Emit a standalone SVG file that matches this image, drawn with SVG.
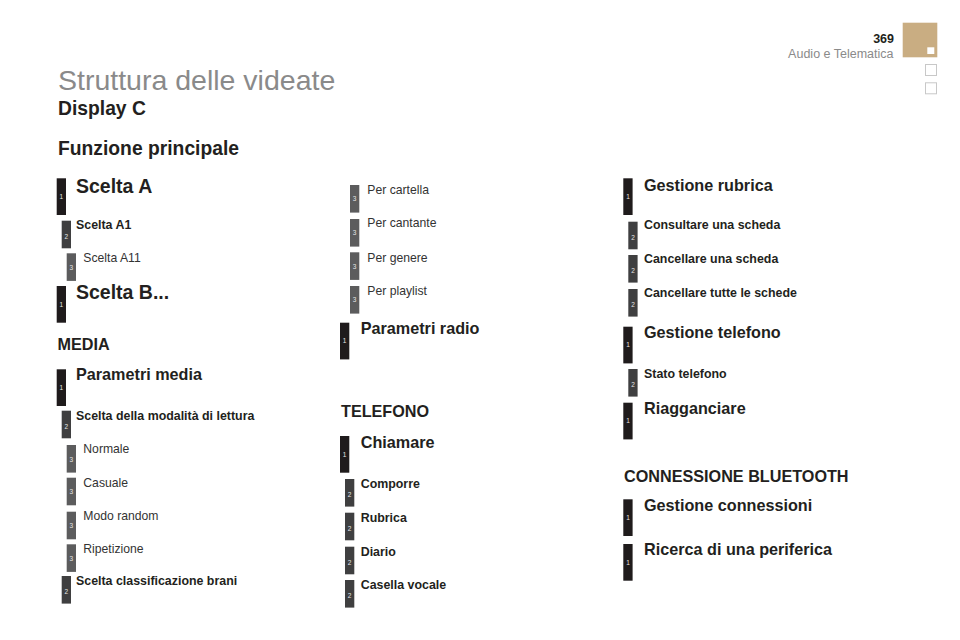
<svg xmlns="http://www.w3.org/2000/svg" width="960" height="640" viewBox="0 0 960 640">
<style>
text{font-family:"Liberation Sans",Arial,Helvetica,sans-serif;fill:#231f20}
.title{font-size:28.5px;fill:#8a8a8a;font-weight:300}
.h2{font-size:19.3px;font-weight:bold}
.sec{font-size:16.2px;font-weight:bold}
.l1{font-size:16.2px;font-weight:bold}
.l1b{font-size:19.5px;font-weight:bold}
.l2{font-size:12.4px;font-weight:bold}
.l3{font-size:12.2px;fill:#333}
.b1{fill:#1f1b1c}
.b2{fill:#3f3f40}
.b3{fill:#5c5c5d}
.n{font-size:6.5px;fill:#e6e6e6;text-anchor:middle}
.pg{font-size:12.5px;font-weight:bold;text-anchor:end}
.hd{font-size:12.5px;fill:#8a8a8a;text-anchor:end}
</style>
<rect width="960" height="640" fill="#ffffff"/>

<g id="header">
<text class="pg" x="894" y="42.5">369</text>
<text class="hd" x="893.5" y="57.5">Audio e Telematica</text>
<rect x="902.7" y="22.7" width="34.6" height="34.6" fill="#c9ad82"/>
<rect x="927.3" y="47.3" width="7" height="6.7" fill="#ffffff"/>
<rect x="925.5" y="64.5" width="11" height="11" fill="none" stroke="#c8c8c8" stroke-width="1"/>
<rect x="925.5" y="82.8" width="11" height="11" fill="none" stroke="#c8c8c8" stroke-width="1"/>
</g>

<g id="titles">
<text class="title" x="58" y="90">Struttura delle videate</text>
<text class="h2" x="58" y="115">Display C</text>
<text class="h2" x="58" y="155">Funzione principale</text>
</g>

<!-- Column 1 -->
<g id="scelta-a"><rect class="b1" x="56.7" y="178.3" width="9.3" height="36.7"/><text class="n" x="61.3" y="199">1</text><text class="l1b" x="76" y="193.3">Scelta A</text></g>
<g id="scelta-a1"><rect class="b2" x="61.7" y="220.7" width="9.3" height="27.6"/><text class="n" x="66.3" y="238.5">2</text><text class="l2" x="76" y="229.3">Scelta A1</text></g>
<g id="scelta-a11"><rect class="b3" x="66.7" y="253.3" width="9.3" height="27.6"/><text class="n" x="71.3" y="269.5">3</text><text class="l3" x="83.3" y="261.7">Scelta A11</text></g>
<g id="scelta-b"><rect class="b1" x="56.7" y="286" width="9.3" height="36.7"/><text class="n" x="61.3" y="306.7">1</text><text class="l1b" x="76" y="299.3">Scelta B...</text></g>

<g id="media"><text class="sec" x="57.5" y="350">MEDIA</text></g>
<g id="parametri-media"><rect class="b1" x="56.7" y="369.3" width="9.3" height="36.7"/><text class="n" x="61.3" y="390">1</text><text class="l1" x="76" y="380">Parametri media</text></g>
<g id="modalita-lettura"><rect class="b2" x="61.7" y="410.7" width="9.3" height="27.6"/><text class="n" x="66.3" y="428.5">2</text><text class="l2" x="76" y="420">Scelta della modalità di lettura</text></g>
<g id="normale"><rect class="b3" x="66.7" y="445" width="9.3" height="27.6"/><text class="n" x="71.3" y="461.5">3</text><text class="l3" x="83.3" y="453.3">Normale</text></g>
<g id="casuale"><rect class="b3" x="66.7" y="477.7" width="9.3" height="27.6"/><text class="n" x="71.3" y="494">3</text><text class="l3" x="83.3" y="486.7">Casuale</text></g>
<g id="modo-random"><rect class="b3" x="66.7" y="511.7" width="9.3" height="27.6"/><text class="n" x="71.3" y="528">3</text><text class="l3" x="83.3" y="520">Modo random</text></g>
<g id="ripetizione"><rect class="b3" x="66.7" y="544.3" width="9.3" height="27.6"/><text class="n" x="71.3" y="560.5">3</text><text class="l3" x="83.3" y="553.3">Ripetizione</text></g>
<g id="classificazione-brani"><rect class="b2" x="61.7" y="576" width="9.3" height="27.6"/><text class="n" x="66.3" y="593.5">2</text><text class="l2" x="76" y="585">Scelta classificazione brani</text></g>

<!-- Column 2 -->
<g id="per-cartella"><rect class="b3" x="350" y="185" width="9.3" height="27.6"/><text class="n" x="354.6" y="201.3">3</text><text class="l3" x="367.3" y="194.3">Per cartella</text></g>
<g id="per-cantante"><rect class="b3" x="350" y="219" width="9.3" height="27.6"/><text class="n" x="354.6" y="235.3">3</text><text class="l3" x="367.3" y="227.3">Per cantante</text></g>
<g id="per-genere"><rect class="b3" x="350" y="252.3" width="9.3" height="27.6"/><text class="n" x="354.6" y="268.6">3</text><text class="l3" x="367.3" y="261.7">Per genere</text></g>
<g id="per-playlist"><rect class="b3" x="350" y="286" width="9.3" height="27.6"/><text class="n" x="354.6" y="302.3">3</text><text class="l3" x="367.3" y="295">Per playlist</text></g>
<g id="parametri-radio"><rect class="b1" x="340" y="322.7" width="9.3" height="36.7"/><text class="n" x="344.6" y="343.4">1</text><text class="l1" x="360.7" y="334.3">Parametri radio</text></g>

<g id="telefono"><text class="sec" x="341" y="417.3">TELEFONO</text></g>
<g id="chiamare"><rect class="b1" x="340" y="436" width="9.3" height="36.7"/><text class="n" x="344.6" y="456.7">1</text><text class="l1" x="360.7" y="447.7">Chiamare</text></g>
<g id="comporre"><rect class="b2" x="345" y="479" width="9.3" height="27.6"/><text class="n" x="349.6" y="496.8">2</text><text class="l2" x="360.7" y="488.3">Comporre</text></g>
<g id="rubrica"><rect class="b2" x="345" y="512.7" width="9.3" height="27.6"/><text class="n" x="349.6" y="530.5">2</text><text class="l2" x="360.7" y="521.7">Rubrica</text></g>
<g id="diario"><rect class="b2" x="345" y="546.7" width="9.3" height="27.6"/><text class="n" x="349.6" y="564.5">2</text><text class="l2" x="360.7" y="555.7">Diario</text></g>
<g id="casella-vocale"><rect class="b2" x="345" y="580" width="9.3" height="27.6"/><text class="n" x="349.6" y="597.8">2</text><text class="l2" x="360.7" y="589">Casella vocale</text></g>

<!-- Column 3 -->
<g id="gestione-rubrica"><rect class="b1" x="623.3" y="178.3" width="9.3" height="36.7"/><text class="n" x="628" y="199">1</text><text class="l1" x="644" y="190.7">Gestione rubrica</text></g>
<g id="consultare-scheda"><rect class="b2" x="628.3" y="221.7" width="9.3" height="27.6"/><text class="n" x="633" y="239.5">2</text><text class="l2" x="644" y="229.3">Consultare una scheda</text></g>
<g id="cancellare-scheda"><rect class="b2" x="628.3" y="255" width="9.3" height="27.6"/><text class="n" x="633" y="272.8">2</text><text class="l2" x="644" y="263.3">Cancellare una scheda</text></g>
<g id="cancellare-tutte"><rect class="b2" x="628.3" y="289" width="9.3" height="27.6"/><text class="n" x="633" y="306.8">2</text><text class="l2" x="644" y="296.7">Cancellare tutte le schede</text></g>
<g id="gestione-telefono"><rect class="b1" x="623.3" y="326.7" width="9.3" height="36.7"/><text class="n" x="628" y="347.4">1</text><text class="l1" x="644" y="338.3">Gestione telefono</text></g>
<g id="stato-telefono"><rect class="b2" x="628.3" y="369" width="9.3" height="27.6"/><text class="n" x="633" y="386.8">2</text><text class="l2" x="644" y="377.7">Stato telefono</text></g>
<g id="riagganciare"><rect class="b1" x="623.3" y="402.7" width="9.3" height="36.7"/><text class="n" x="628" y="423.4">1</text><text class="l1" x="644" y="414.3">Riagganciare</text></g>

<g id="bluetooth"><text class="sec" x="624" y="481.7">CONNESSIONE BLUETOOTH</text></g>
<g id="gestione-connessioni"><rect class="b1" x="623.3" y="499.3" width="9.3" height="36.7"/><text class="n" x="628" y="520">1</text><text class="l1" x="644" y="511">Gestione connessioni</text></g>
<g id="ricerca-periferica"><rect class="b1" x="623.3" y="544" width="9.3" height="36.7"/><text class="n" x="628" y="564.7">1</text><text class="l1" x="644" y="555">Ricerca di una periferica</text></g>
</svg>
